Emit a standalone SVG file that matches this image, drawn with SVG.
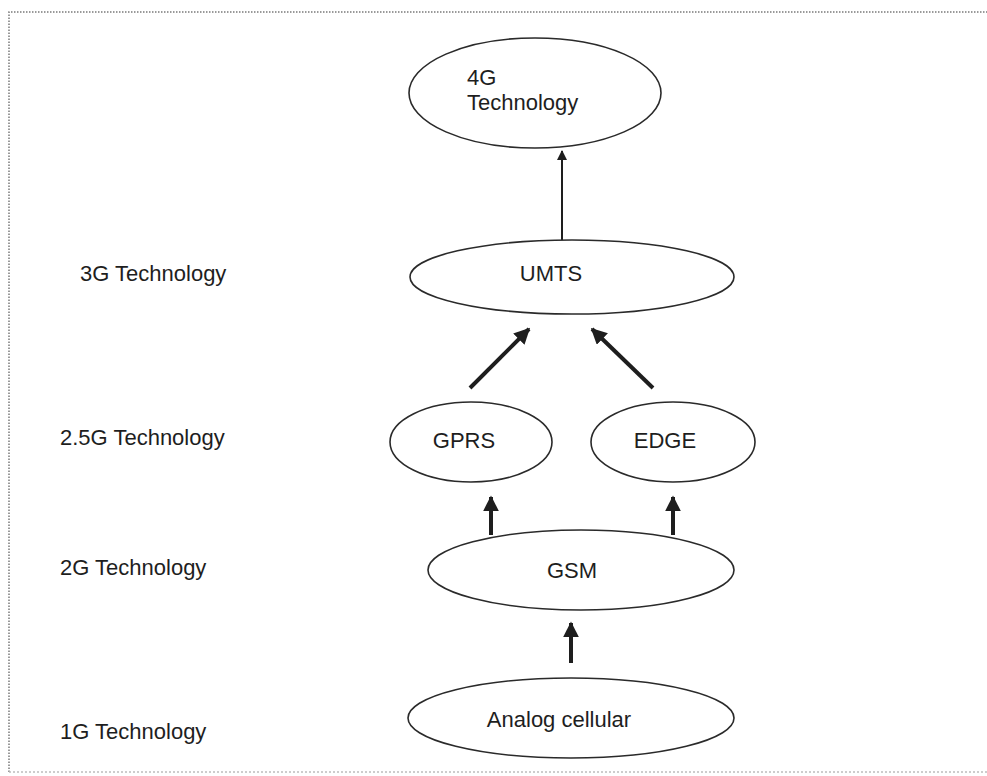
<svg xmlns="http://www.w3.org/2000/svg" width="987" height="776" viewBox="0 0 987 776">
  <style>
    .node { fill: #ffffff; stroke: #2a2a2a; stroke-width: 1.6; }
    .label { font-family: "Liberation Sans", Arial, sans-serif; font-size: 22px; fill: #1e1e1e; }
    .mid { text-anchor: middle; }
    .thin { stroke: #1e1e1e; stroke-width: 2; fill: none; }
    .thick { stroke: #1e1e1e; stroke-width: 4; fill: none; }
    .frame { fill: none; stroke: #7a7a7a; stroke-width: 1.5; stroke-dasharray: 1.5 1.5; }
  </style>
  <defs>
    <marker id="headSmall" viewBox="0 0 10 10" refX="9" refY="5" markerWidth="5" markerHeight="5" markerUnits="strokeWidth" orient="auto">
      <path d="M0,0 L10,5 L0,10 z" fill="#1e1e1e"/>
    </marker>
    <marker id="headBig" viewBox="0 0 10 10" refX="9" refY="5" markerWidth="4" markerHeight="4" markerUnits="strokeWidth" orient="auto">
      <path d="M0,0 L10,5 L0,10 z" fill="#1e1e1e"/>
    </marker>
  </defs>

  <rect width="987" height="776" fill="#ffffff"/>
  <!-- dotted page frame -->
  <path class="frame" d="M9,772 L9,12 L987,12"/>
  <path d="M9,772 L987,772" fill="none" stroke="#bdbdbd" stroke-width="1.5" stroke-dasharray="2 2"/>

  <!-- generation labels -->
  <g id="level-labels">
    <text class="label" x="80" y="281">3G Technology</text>
    <text class="label" x="60" y="445">2.5G Technology</text>
    <text class="label" x="60" y="575">2G Technology</text>
    <text class="label" x="60" y="739">1G Technology</text>
  </g>

  <!-- connectors -->
  <g id="connectors">
    <line class="thin" x1="562" y1="240" x2="562" y2="151" marker-end="url(#headSmall)"/>
    <line class="thick" x1="470" y1="388" x2="529" y2="329" marker-end="url(#headBig)"/>
    <line class="thick" x1="653" y1="388" x2="592" y2="329" marker-end="url(#headBig)"/>
    <line class="thick" x1="491" y1="535" x2="491" y2="497" marker-end="url(#headBig)"/>
    <line class="thick" x1="673" y1="535" x2="673" y2="497" marker-end="url(#headBig)"/>
    <line class="thick" x1="571" y1="663" x2="571" y2="623" marker-end="url(#headBig)"/>
  </g>

  <!-- nodes -->
  <g id="node-4g">
    <ellipse class="node" cx="535" cy="93" rx="126" ry="55"/>
    <text class="label" x="467" y="85">4G</text>
    <text class="label" x="467" y="110">Technology</text>
  </g>
  <g id="node-umts">
    <ellipse class="node" cx="572" cy="277" rx="162" ry="37"/>
    <text class="label mid" x="551" y="281">UMTS</text>
  </g>
  <g id="node-gprs">
    <ellipse class="node" cx="471" cy="442" rx="81" ry="40"/>
    <text class="label mid" x="464" y="448">GPRS</text>
  </g>
  <g id="node-edge">
    <ellipse class="node" cx="673" cy="442" rx="82" ry="40"/>
    <text class="label mid" x="665" y="448">EDGE</text>
  </g>
  <g id="node-gsm">
    <ellipse class="node" cx="581" cy="570" rx="153" ry="40"/>
    <text class="label mid" x="572" y="578">GSM</text>
  </g>
  <g id="node-analog">
    <ellipse class="node" cx="571" cy="718" rx="163" ry="40"/>
    <text class="label mid" x="559" y="727">Analog cellular</text>
  </g>
</svg>
